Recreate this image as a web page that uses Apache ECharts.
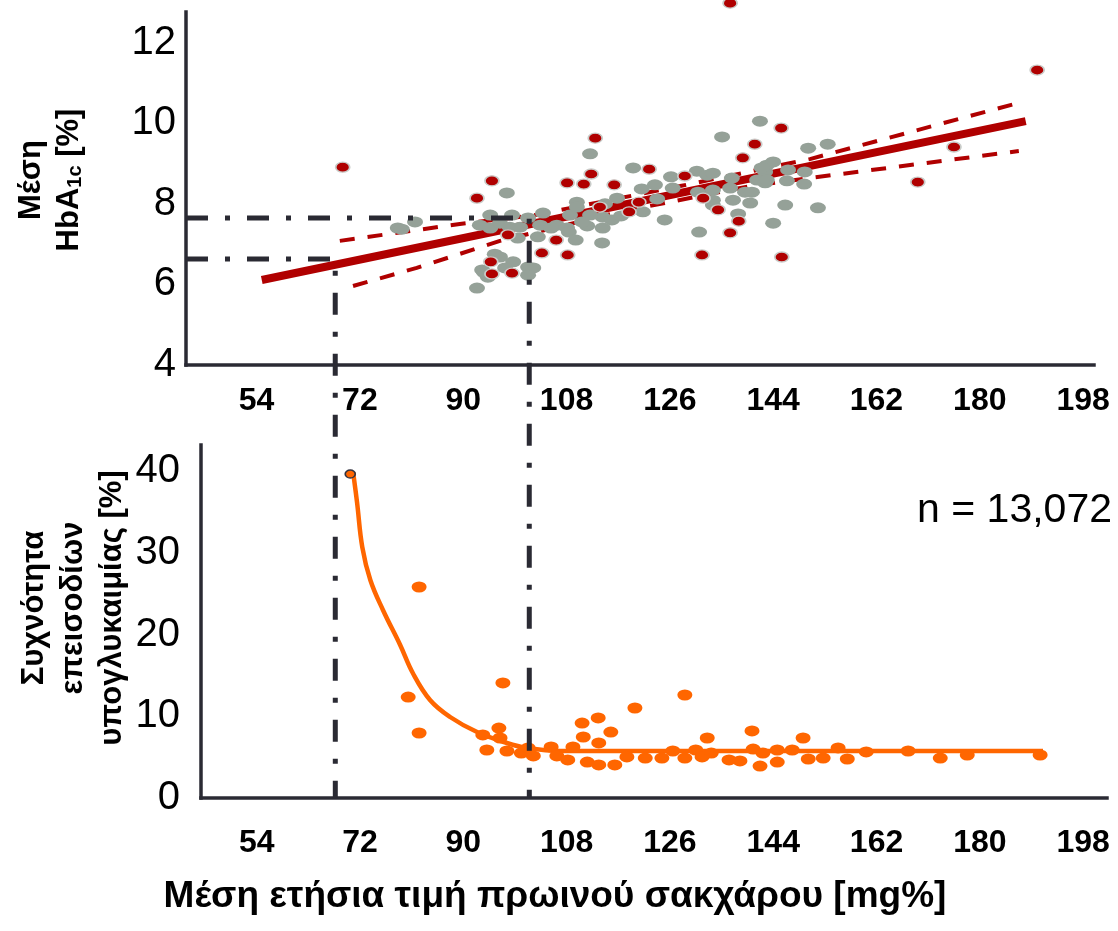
<!DOCTYPE html>
<html>
<head>
<meta charset="utf-8">
<script src="https://cdn.jsdelivr.net/npm/echarts@6/dist/echarts.min.js"></script>
<style>
  html, body { margin: 0; padding: 0; background: #ffffff; }
  #chart { width: 1118px; height: 931px; }
</style>
</head>
<body>
<div id="chart"></div>
<script>
// Axis tick labels
const glucoseTicks = [54, 72, 90, 108, 126, 144, 162, 180, 198];
const hba1cTicks = [4, 6, 8, 10, 12];
const hypoTicks = [0, 10, 20, 30, 40];

// Mean HbA1c [%] vs mean annual fasting glucose [mg%]
const hba1cGrey = [
  [78.6,7.40],[79.3,7.37],[81.6,7.55],[92.4,5.91],[93.3,6.36],[94.3,6.18],[94.7,7.72],[92.9,7.47],
  [94.7,7.40],[96.4,7.52],[98.1,7.42],[99.9,7.42],[97.6,8.27],[98.5,7.72],[101.3,7.65],[103.9,7.77],
  [103.4,7.47],[106.3,7.47],[108.1,7.40],[108.4,7.30],[111.6,7.45],[114.3,7.67],[115.9,7.60],[99.5,7.15],
  [103.0,7.18],[109.6,7.10],[114.2,7.03],[95.5,6.75],[96.4,6.68],[98.7,6.56],[97.3,6.41],[101.3,6.43],
  [102.2,6.41],[101.3,6.23],[112.1,9.24],[109.8,8.04],[112.1,7.72],[108.6,7.72],[110.7,7.55],[119.6,8.89],
  [123.4,8.47],[126.2,8.67],[130.7,8.81],[132.5,8.71],[133.5,8.76],[136.8,8.64],[135.1,9.66],[141.7,10.05],
  [150.1,9.38],[153.5,9.48],[142.9,8.96],[144.0,9.04],[142.6,8.79],[146.6,8.84],[146.4,8.57],[149.5,8.79],
  [149.4,8.49],[151.8,7.90],[146.1,7.97],[144.0,7.52],[140.0,8.02],[137.0,8.09],[137.9,7.75],[121.1,8.37],
  [126.5,8.39],[123.8,8.12],[121.3,7.80],[125.1,7.60],[131.1,7.30],[130.9,8.29],[133.5,8.34],[133.5,8.09],
  [133.5,7.97],[136.5,8.39],[139.1,8.29],[140.3,8.29],[141.2,8.59],[142.6,8.52],[114.3,7.40],[116.8,8.14],
  [114.7,8.00],[142.0,8.89],[142.9,8.59],[109.8,7.92],[105.3,7.40],[93.6,6.30],[117.5,7.70]
];
const hba1cRed = [
  [69.0,8.91],[136.5,12.98],[190.0,11.32],[145.4,9.88],[140.8,9.48],[138.7,9.14],[175.5,9.41],[169.2,8.54],
  [122.4,8.86],[128.6,8.69],[113.0,9.63],[112.3,8.74],[108.1,8.52],[111.0,8.49],[116.3,8.47],[95.0,8.57],
  [92.4,8.14],[131.8,8.14],[134.4,7.85],[120.6,8.04],[113.8,7.92],[118.9,7.80],[138.0,7.57],[136.5,7.28],
  [131.6,6.73],[145.5,6.68],[106.2,7.10],[108.2,6.73],[103.7,6.78],[97.8,7.23],[94.8,6.56],[95.0,6.26],
  [98.5,6.28]
];
const regressionLine = [[54.9,6.11],[188.0,10.05]];
const ciUpper = [[68.5,7.08],[89.4,7.50],[102.5,7.72],[127.8,8.44],[150.4,9.11],[186.1,10.48]];
const ciLower = [[70.8,5.96],[81.9,6.41],[96.4,7.08],[117.3,7.80],[140.0,8.44],[150.4,8.64],[186.8,9.31]];

// Frequency of hypoglycaemic episodes [%] vs mean annual fasting glucose [mg%]
const hypoPoints = [
  [82.3,25.81],[80.4,12.35],[82.3,7.95],[96.9,14.07],[128.6,12.60],[119.9,11.01],[113.5,9.79],[110.7,9.17],
  [115.7,8.07],[96.2,8.56],[93.4,7.71],[96.4,7.34],[110.9,7.46],[113.6,6.73],[132.5,7.34],[140.3,8.20],
  [149.2,7.34],[94.1,5.87],[97.6,5.75],[100.1,5.50],[101.3,6.12],[102.2,5.14],[105.3,6.24],[106.3,5.14],
  [109.1,6.24],[108.2,4.65],[111.6,4.40],[113.6,4.04],[116.4,4.04],[118.5,5.02],[121.7,4.89],[124.6,4.89],
  [126.5,5.75],[128.6,4.89],[130.5,5.87],[131.6,5.02],[133.2,5.50],[136.3,4.65],[138.2,4.53],[140.5,5.99],
  [141.7,3.91],[142.2,5.50],[144.7,5.87],[144.7,4.40],[147.3,5.87],[150.1,4.77],[152.7,4.89],[155.3,6.12],
  [156.9,4.77],[160.2,5.63],[167.5,5.75],[173.1,4.89],[177.8,5.26],[190.5,5.26]
];
const hypoFirst = [[70.3,39.63]];
const hypoCurve = [
  [70.8,39.88],[71.5,36.09],[72.4,30.70],[73.8,26.67],[76.0,23.0],[79.0,18.72],[81.2,15.29],
  [84.2,11.99],[87.7,9.91],[92.4,8.07],[97.6,6.73],[101.1,6.12],[106.9,5.75],[191.0,5.75]
];
const sampleLabel = 'n = 13,072';

// Reference glucose levels and the HbA1c they correspond to
const refGlucose = [67.7, 101.5];
const refHbA1c = [6.63, 7.65];

const FONT = '"Liberation Sans", Arial, Helvetica, sans-serif';
const AXIS = '#2a2a33';
const RED = '#b00000';
const GREY = '#95a198';
const ORANGE = '#ff6600';

const topX = { min: 41.7, max: 199.9 };
const botX = { min: 44.3, max: 202.15 };

const chart = echarts.init(document.getElementById('chart'), null, { renderer: 'canvas' });

function valueAxis(extra) {
  return Object.assign({
    type: 'value',
    axisLine: { show: true, onZero: false, lineStyle: { color: AXIS, width: 3.5, cap: 'square' } },
    axisTick: { show: false },
    splitLine: { show: false }
  }, extra);
}

const option = {
  animation: false,
  backgroundColor: '#ffffff',
  grid: [
    { left: 186, top: 12, width: 908, height: 353 },
    { left: 201, top: 445, width: 906, height: 353 }
  ],
  xAxis: [
    valueAxis({
      gridIndex: 0, min: topX.min, max: topX.max,
      axisLabel: { customValues: glucoseTicks, fontSize: 32, fontWeight: 'bold', color: '#000',
                   fontFamily: FONT, margin: 20, hideOverlap: false }
    }),
    valueAxis({
      gridIndex: 1, min: botX.min, max: botX.max,
      axisLabel: { customValues: glucoseTicks, fontSize: 32, fontWeight: 'bold', color: '#000',
                   fontFamily: FONT, margin: 29, hideOverlap: false }
    })
  ],
  yAxis: [
    valueAxis({
      gridIndex: 0, min: 4, max: 12.76,
      axisLabel: { customValues: hba1cTicks, fontSize: 40, color: '#000', fontFamily: FONT, margin: 10 }
    }),
    valueAxis({
      gridIndex: 1, min: 0, max: 43.18,
      axisLabel: { customValues: hypoTicks, fontSize: 40, color: '#000', fontFamily: FONT, margin: 21 }
    })
  ],
  series: [
    {
      type: 'line', xAxisIndex: 0, yAxisIndex: 0, data: ciUpper, symbol: 'none', z: 2,
      lineStyle: { color: RED, width: 4, type: [15, 13] }
    },
    {
      type: 'line', xAxisIndex: 0, yAxisIndex: 0, data: ciLower, symbol: 'none', z: 2,
      lineStyle: { color: RED, width: 4, type: [15, 13] }
    },
    {
      type: 'line', xAxisIndex: 0, yAxisIndex: 0, data: regressionLine, symbol: 'none', z: 2,
      lineStyle: { color: RED, width: 8, cap: 'butt' }
    },
    {
      type: 'scatter', xAxisIndex: 0, yAxisIndex: 0, data: hba1cGrey, z: 3,
      symbol: 'circle', symbolSize: [16, 11], itemStyle: { color: GREY, opacity: 1 }
    },
    {
      type: 'scatter', xAxisIndex: 0, yAxisIndex: 0, data: hba1cRed, z: 4, clip: false,
      symbol: 'circle', symbolSize: [14, 10],
      itemStyle: { color: RED, borderColor: '#c9ccc9', borderWidth: 1.5, opacity: 1 }
    },
    {
      type: 'line', xAxisIndex: 1, yAxisIndex: 1, data: hypoCurve, symbol: 'none', z: 2,
      smooth: 0.4, lineStyle: { color: ORANGE, width: 4.5 }
    },
    {
      type: 'scatter', xAxisIndex: 1, yAxisIndex: 1, data: hypoPoints, z: 3,
      symbol: 'circle', symbolSize: [15, 11], itemStyle: { color: ORANGE, opacity: 1 }
    },
    {
      type: 'scatter', xAxisIndex: 1, yAxisIndex: 1, data: hypoFirst, z: 4,
      symbol: 'circle', symbolSize: [10, 8],
      itemStyle: { color: ORANGE, borderColor: '#333340', borderWidth: 1.5, opacity: 1 }
    }
  ],
  graphic: [
    {
      id: 'yTitleTop', type: 'text', x: 47, y: 180, rotation: Math.PI / 2, z: 50,
      style: {
        text: '{b|Μέση}\n{b|HbA}{s|1c}{b| [%]}',
        align: 'center', verticalAlign: 'middle', textAlign: 'center', textVerticalAlign: 'middle',
        fill: '#000',
        rich: {
          b: { fontFamily: FONT, fontWeight: 'bold', fontSize: 31, lineHeight: 38, verticalAlign: 'bottom' },
          s: { fontFamily: FONT, fontWeight: 'bold', fontSize: 20, lineHeight: 38, verticalAlign: 'bottom' }
        }
      }
    },
    {
      id: 'yTitleBottom', type: 'text', x: 73, y: 608, rotation: Math.PI / 2, z: 50,
      style: {
        text: 'Συχνότητα\nεπεισοδίων\nυπογλυκαιμίας [%]',
        align: 'center', verticalAlign: 'middle', textAlign: 'center', textVerticalAlign: 'middle',
        fill: '#000', fontFamily: FONT, fontWeight: 'bold', fontSize: 31, lineHeight: 39
      }
    },
    {
      id: 'xTitle', type: 'text', x: 555, y: 897, z: 50,
      style: {
        text: 'Μέση ετήσια τιμή πρωινού σακχάρου [mg%]',
        align: 'center', verticalAlign: 'middle', textAlign: 'center', textVerticalAlign: 'middle',
        fill: '#000', fontFamily: FONT, fontWeight: 'bold', fontSize: 37
      }
    },
    {
      id: 'nLabel', type: 'text', x: 1112, y: 511, z: 50,
      style: {
        text: sampleLabel,
        align: 'right', verticalAlign: 'middle', textAlign: 'right', textVerticalAlign: 'middle',
        fill: '#000', fontFamily: FONT, fontSize: 41
      }
    }
  ]
};

chart.setOption(option);

// Dash-dot guides: from the HbA1c axis across to the glucose level, then down through the lower panel
const toPx = (grid, v) => chart.convertToPixel({ gridIndex: grid }, v);
const guides = refGlucose.map((g, i) => ({
  id: 'guide' + i,
  type: 'polyline',
  z: 60,
  silent: true,
  shape: {
    points: [
      toPx(0, [topX.min, refHbA1c[i]]),
      toPx(0, [g, refHbA1c[i]]),
      toPx(1, [g, 0])
    ]
  },
  style: { stroke: AXIS, lineWidth: 5, lineDash: [22, 17, 5, 17], fill: null }
}));
chart.setOption({ graphic: guides });
</script>
</body>
</html>
